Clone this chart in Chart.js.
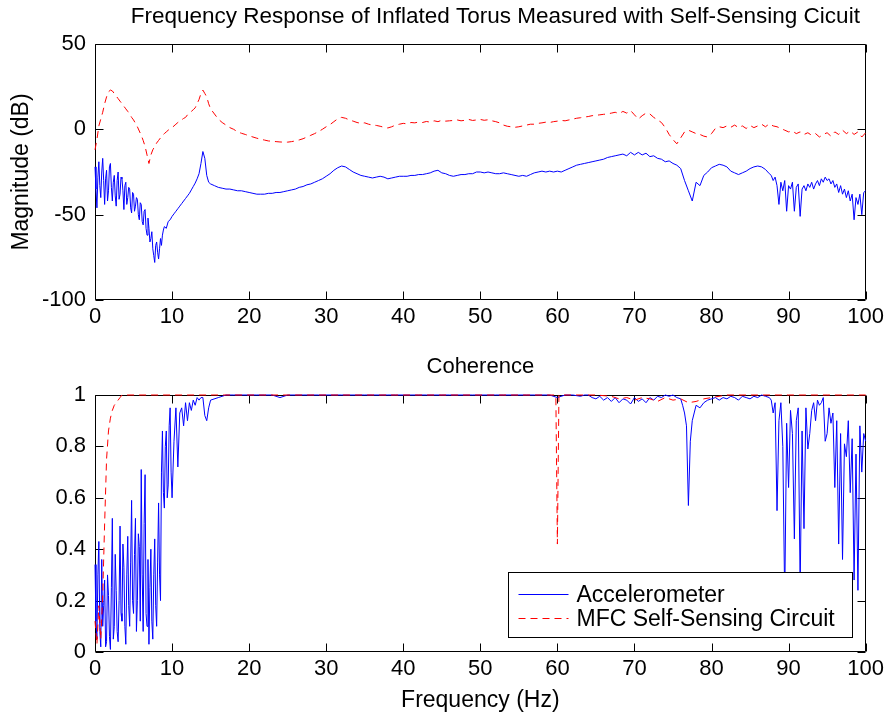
<!DOCTYPE html>
<html>
<head>
<meta charset="utf-8">
<title>Frequency Response of Inflated Torus</title>
<script src="https://cdn.jsdelivr.net/npm/chart.js"></script>
<style>
    html, body { margin: 0; padding: 0; background: #fff; }
    #page { position: relative; width: 888px; height: 717px; }
    #magChart { position: absolute; left: 0; top: 0; }
    #cohChart { position: absolute; left: 0; top: 345px; }
</style>
</head>
<body>
<div id="page">
    <canvas id="magChart" width="888" height="345"></canvas>
    <canvas id="cohChart" width="888" height="372"></canvas>
</div>
<script>
// ---- magnitude plot (dB) ----
const accelFreq = [
    0, 0.125, 0.25, 0.375, 0.5, 0.625, 0.75, 0.875,
    1, 1.125, 1.25, 1.375, 1.5, 1.625, 1.75, 1.875,
    2, 2.125, 2.25, 2.375, 2.5, 2.625, 2.75, 2.875,
    3, 3.125, 3.25, 3.375, 3.5, 3.625, 3.75, 3.875,
    4, 4.125, 4.25, 4.375, 4.5, 4.625, 4.75, 4.875,
    5, 5.125, 5.25, 5.375, 5.5, 5.625, 5.75, 5.875,
    6, 6.125, 6.25, 6.375, 6.5, 6.625, 6.75, 6.875,
    7, 7.125, 7.25, 7.375, 7.5, 7.625, 7.75, 7.875,
    8, 8.125, 8.25, 8.375, 8.5, 8.625, 8.75, 8.875,
    9, 9.25, 9.5, 9.75,
    10, 10.25, 10.5, 10.75, 11, 11.25, 11.5, 11.75, 12, 12.25,
    12.5, 12.75, 13, 13.25, 13.5, 13.75, 14, 14.25, 14.5, 14.75,
    15,
    15.5, 16, 16.5, 17, 17.5, 18, 18.5, 19, 19.5, 20,
    20.5, 21, 21.5, 22, 22.5, 23, 23.5, 24, 24.5, 25,
    25.5, 26, 26.5, 27, 27.5, 28, 28.5, 29, 29.5, 30,
    30.5, 31, 31.5, 32, 32.5, 33, 33.5, 34, 34.5, 35,
    35.5, 36, 36.5, 37, 37.5, 38, 38.5, 39, 39.5, 40,
    40.5, 41, 41.5, 42, 42.5, 43, 43.5, 44, 44.5, 45,
    45.5, 46, 46.5, 47, 47.5, 48, 48.5, 49, 49.5, 50,
    50.5, 51, 51.5, 52, 52.5, 53, 53.5, 54, 54.5, 55,
    55.5, 56, 56.5, 57, 57.5, 58, 58.5, 59, 59.5, 60,
    60.5, 61, 61.5, 62, 62.5, 63, 63.5, 64, 64.5, 65,
    65.5, 66, 66.5, 67, 67.5, 68, 68.5, 69, 69.5, 70,
    70.5, 71, 71.5, 72, 72.5, 73, 73.5, 74, 74.5, 75,
    75.5, 76, 76.5, 77, 77.5, 78, 78.5, 79, 79.5, 80,
    80.5, 81, 81.5, 82, 82.5, 83, 83.5, 84, 84.5, 85,
    85.5, 86, 86.5, 87, 87.5,
    87.75, 88, 88.25, 88.5, 88.75, 89, 89.25, 89.5, 89.75, 90,
    90.25, 90.5, 90.75, 91, 91.25, 91.5, 91.75, 92, 92.25, 92.5,
    92.75, 93, 93.25, 93.5, 93.75, 94, 94.25, 94.5, 94.75, 95,
    95.25, 95.5, 95.75, 96, 96.25, 96.5, 96.75, 97, 97.25, 97.5,
    97.75, 98, 98.25, 98.5, 98.75, 99, 99.25, 99.5, 99.75, 100
]

const accelMag = [
    -22, -35, -46, -28, -19, -33, -40, -25,
    -17, -30, -44, -29, -24, -42, -36, -22,
    -20, -34, -42, -31, -27, -39, -45, -30,
    -25, -41, -38, -28, -29, -36, -47, -33,
    -31, -44, -40, -34, -35, -46, -49, -37,
    -38, -48, -45, -40, -41, -50, -53, -43,
    -44, -54, -56, -48, -47, -58, -62, -52,
    -58, -66, -64, -60, -70, -74, -78, -68,
    -66, -72, -76, -70, -64, -68, -62, -59,
    -57, -58, -54, -53,
    -51, -49.5, -48, -46.5, -45, -43.5, -42, -40.5, -39, -37.5,
    -35.5, -33.5, -31.5, -29, -26, -20, -13, -17, -27, -31,
    -32,
    -33, -34, -34.5, -35, -35, -35.5, -36, -36, -36.5, -37,
    -37.5, -38, -38, -38, -37.5, -37.5, -37, -37, -36.5, -36,
    -35.5, -35, -34, -33.5, -32.5, -32, -31, -30, -29, -27.5,
    -26, -24, -22.5, -21.5, -22, -23.5, -25, -26, -27, -27.5,
    -28, -28.5, -28, -27.5, -28, -29, -28.5, -28, -27.5, -27.5,
    -27.5, -27, -27, -26.5, -26.5, -26, -25.5, -24.5, -24, -25.5,
    -26, -27, -27.5, -27, -26.5, -26.5, -26, -26, -25, -25,
    -25.5, -25, -25.5, -26, -26, -25.5, -26, -26.5, -27, -27.5,
    -27, -27.5, -26.5, -25.5, -25, -24.5, -25, -24.5, -25, -24.5,
    -25, -24, -23, -22, -21, -20.5, -20, -19.5, -19, -18.5,
    -18, -17.5, -16.5, -16, -15.5, -15, -14.5, -15.5, -13.5, -15,
    -13.5, -15, -14, -16, -15.5, -17, -17.5, -19, -18.5, -20,
    -21, -23, -30, -36, -42, -31, -33, -27, -25, -22.5,
    -21.5, -20.5, -21, -22, -24.5, -25.5, -26.5, -25.5, -24.5, -23,
    -22, -21.5, -22, -23.5, -26,
    -27, -30, -28, -33, -44, -31, -36, -30, -48, -33,
    -35, -31, -48, -34, -32, -51, -35, -33, -36, -32,
    -34, -31, -35, -32, -30, -33, -29, -31, -28, -30,
    -29, -32, -30, -34, -32, -37, -33, -38, -35, -40,
    -36, -42, -38, -53, -40, -44, -38, -50, -37, -36
]

const mfcFreq = [
    0, 0.25, 0.5, 0.75, 1, 1.25, 1.5, 1.75, 2, 2.25,
    2.5, 2.75, 3, 3.25, 3.5, 3.75, 4, 4.25, 4.5, 4.75,
    5, 5.25, 5.5, 5.75, 6, 6.25, 6.5, 6.75, 7, 7.25,
    7.5, 7.75, 8, 8.25, 8.5, 8.75, 9, 9.25, 9.5, 9.75,
    10, 10.25, 10.5, 10.75, 11, 11.25, 11.5, 11.75, 12, 12.25,
    12.5, 12.75, 13, 13.25, 13.5, 13.75, 14, 14.25, 14.5, 14.75,
    15,
    15.5, 16, 16.5, 17, 17.5, 18, 18.5, 19, 19.5, 20,
    20.5, 21, 21.5, 22, 22.5, 23, 23.5, 24, 24.5, 25,
    25.5, 26, 26.5, 27, 27.5, 28, 28.5, 29, 29.5, 30,
    30.5, 31, 31.5, 32, 32.5, 33, 33.5, 34, 34.5, 35,
    35.5, 36, 36.5, 37, 37.5, 38, 38.5, 39, 39.5, 40,
    40.5, 41, 41.5, 42, 42.5, 43, 43.5, 44, 44.5, 45,
    45.5, 46, 46.5, 47, 47.5, 48, 48.5, 49, 49.5, 50,
    50.5, 51, 51.5, 52, 52.5, 53, 53.5, 54, 54.5, 55,
    55.5, 56, 56.5, 57, 57.5, 58, 58.5, 59, 59.5, 60,
    60.5, 61, 61.5, 62, 62.5, 63, 63.5, 64, 64.5, 65,
    65.5, 66, 66.5, 67, 67.5, 68, 68.5, 69, 69.5, 70,
    70.5, 71, 71.5, 72, 72.5, 73, 73.5, 74, 74.5, 75,
    75.5, 76, 76.5, 77, 77.5, 78, 78.5, 79, 79.5, 80,
    80.5, 81, 81.5, 82, 82.5, 83, 83.5, 84, 84.5, 85,
    85.5, 86, 86.5, 87, 87.5, 88, 88.5, 89, 89.5, 90,
    90.5, 91, 91.5, 92, 92.5, 93, 93.5, 94, 94.5, 95,
    95.5, 96, 96.5, 97, 97.5, 98, 98.5, 99, 99.5, 100
]

const mfcMag = [
    -12, -6, 2, 6, 10, 15, 19, 22, 23, 22.5,
    21, 19.5, 18, 16.5, 15, 13.5, 12, 10.5, 9, 7,
    5.5, 3.5, 1.5, -1, -3.5, -6.5, -10, -15, -20, -15,
    -12, -10, -8, -6.5, -5, -3.5, -2.5, -1.5, -0.5, 0.3,
    1, 2, 3, 4, 4.8, 5.6, 6.4, 7, 8.5, 9.5,
    10.5, 11.5, 12.6, 15, 17.5, 21, 23, 21, 19, 15,
    12,
    9, 6, 4, 2.5, 1, 0, -1.5, -2.3, -3, -3.8,
    -4.5, -5.2, -5.8, -6.3, -6.8, -7, -7.2, -7.4, -7.5, -7.5,
    -7.2, -6.8, -6.2, -5.5, -4.5, -3.5, -2.5, -1.3, 0, 1.5,
    2.8, 4.5, 6.2, 7, 6.5, 5.5, 4.8, 4, 3.5, 3.8,
    3, 2.5, 2.3, 1.8, 1.2, 0.8, 1.5, 2.5, 3, 3.5,
    3.2, 4, 3.8, 4.3, 4, 4.6, 4.2, 5, 4.5, 5.3,
    4.8, 5, 5.2, 5.5, 5, 5.3, 5.8, 5.2, 5.5, 5.8,
    5.3, 5.6, 5, 4.5, 3.8, 2.5, 1.8, 1.5, 1.2, 1.5,
    2, 2.5, 3, 3, 3.5, 3.8, 4.2, 4, 4.5, 4.8,
    5.2, 5, 5.5, 6, 6.5, 6.8, 7.2, 7.5, 8, 8.2,
    8.5, 8.8, 9, 9.5, 10, 9.2, 10.5, 9.5, 11, 8.5,
    6, 8, 9.5, 9, 7, 5.5, 4, 1, -3, -6,
    -8.5, -5, -1.5, -0.5, -1.5, -2.5, -3, -4, -4.5, -2.5,
    0.5, 1.5, 1, 2, 1.2, 2.5, 1, 2, 0.5, 2.3,
    1, 2, 3, 1.5, 3.2, 2, 1.5, 0.5, -0.5, -1.5,
    -1, -2.5, -1.5, -3, -2, -3.5, -2.5, -4.5, -3, -2,
    -4, -1.5, -3, -0.5, -2.5, -1, -3, -1.5, -4.5, -2
]

// ---- coherence plot ----
const accelCohFreq = [
    0, 0.125, 0.25, 0.375, 0.5, 0.625, 0.75, 0.875,
    1, 1.125, 1.25, 1.375, 1.5, 1.625, 1.75, 1.875,
    2, 2.125, 2.25, 2.375, 2.5, 2.625, 2.75, 2.875,
    3, 3.125, 3.25, 3.375, 3.5, 3.625, 3.75, 3.875,
    4, 4.125, 4.25, 4.375, 4.5, 4.625, 4.75, 4.875,
    5, 5.125, 5.25, 5.375, 5.5, 5.625, 5.75, 5.875,
    6, 6.125, 6.25, 6.375, 6.5, 6.625, 6.75, 6.875,
    7, 7.125, 7.25, 7.375, 7.5, 7.625, 7.75, 7.875,
    8, 8.125, 8.25, 8.375, 8.5, 8.625, 8.75, 8.875,
    9, 9.125, 9.25, 9.375, 9.5, 9.625, 9.75, 9.875,
    10, 10.25, 10.5, 10.75, 11, 11.25, 11.5, 11.75, 12, 12.25,
    12.5, 12.75, 13, 13.25, 13.5, 13.75, 14, 14.25, 14.5, 14.75,
    15,
    16, 17, 18, 19, 20, 21, 22, 23, 24, 25,
    26, 27, 28, 29, 30, 31, 32, 33, 34, 35,
    36, 37, 38, 39, 40, 41, 42, 43, 44, 45,
    46, 47, 48, 49, 50, 51, 52, 53, 54, 55,
    56, 57, 58, 59,
    60, 61, 62, 63,
    63.5, 64, 64.5, 65, 65.5, 66, 66.5, 67, 67.5, 68,
    68.5, 69, 69.5, 70, 70.5, 71, 71.5, 72, 72.5, 73,
    73.5, 74, 74.5, 75, 75.5, 76,
    76.25, 76.5, 76.75, 77, 77.25, 77.5, 77.75, 78,
    78.5, 79, 79.5, 80, 80.5, 81, 81.5, 82, 82.5, 83,
    83.5, 84, 84.5, 85, 85.5, 86, 86.5, 87, 87.5,
    87.75, 88, 88.25, 88.5, 88.75, 89, 89.25, 89.5, 89.75, 90,
    90.25, 90.5, 90.75, 91, 91.25, 91.5, 91.75, 92, 92.25, 92.5,
    92.75, 93, 93.25, 93.5, 93.75, 94, 94.25, 94.5, 94.75, 95,
    95.25, 95.5, 95.75, 96, 96.25, 96.5, 96.75, 97, 97.25, 97.5,
    97.75, 98, 98.25, 98.5, 98.75, 99, 99.25, 99.5, 99.75, 100
]

const accelCoh = [
    0.34, 0.12, 0.05, 0.3, 0.43, 0.08, 0.02, 0.36,
    0.1, 0.18, 0.28, 0.02, 0.04, 0.3, 0.22, 0.06,
    0.01, 0.25, 0.52, 0.05, 0.1, 0.38, 0.24, 0.08,
    0.04, 0.2, 0.49, 0.15, 0.12, 0.42, 0.33, 0.1,
    0.03, 0.3, 0.45, 0.18, 0.1, 0.35, 0.59, 0.2,
    0.15, 0.38, 0.52, 0.08, 0.2, 0.46, 0.41, 0.12,
    0.71, 0.3, 0.08, 0.5, 0.69, 0.15, 0.1, 0.36,
    0.03, 0.25, 0.4, 0.12, 0.05, 0.3, 0.44, 0.18,
    0.1, 0.35, 0.58, 0.3, 0.2, 0.7, 0.86, 0.62,
    0.56, 0.8, 0.86, 0.6, 0.65, 0.88, 0.95, 0.7,
    0.6, 0.82, 0.95, 0.72, 0.93, 0.95, 0.88, 0.97, 0.9, 0.97,
    0.94, 0.98, 0.96, 0.99, 0.98, 0.99, 0.99, 0.92, 0.9, 0.95,
    0.98,
    0.99, 1, 1, 1, 1, 1, 1, 1, 0.99, 1,
    1, 1, 1, 1, 1, 1, 1, 1, 1, 1,
    1, 1, 1, 1, 1, 1, 1, 1, 1, 1,
    1, 1, 1, 1, 1, 1, 1, 1, 1, 1,
    1, 1, 1, 1,
    0.99, 1, 1, 0.995,
    1, 1, 0.99, 0.985, 0.995, 0.98, 0.99, 0.975, 0.99, 0.97,
    0.985, 0.98, 0.965, 0.99, 0.975, 0.985, 0.97, 0.99, 0.98, 0.995,
    0.99, 1, 0.995, 1, 0.99, 0.985,
    0.96, 0.93, 0.88, 0.57, 0.82, 0.9, 0.93, 0.96,
    0.95, 0.97, 0.98, 0.985, 0.99, 0.98, 0.99, 0.985, 0.995, 0.99,
    0.98, 0.995, 0.99, 0.985, 0.995, 0.99, 1, 0.995, 0.99,
    0.98, 0.93, 0.97, 0.55, 0.9, 0.97, 0.8, 0.2, 0.89, 0.64,
    0.94, 0.85, 0.44, 0.9, 0.95, 0.25, 0.86, 0.48, 0.95, 0.79,
    0.85, 0.94, 0.97, 0.9, 0.98, 0.96, 0.97, 0.99, 0.82, 0.85,
    0.95, 0.89, 0.93, 0.64, 0.9, 0.42, 0.85, 0.36, 0.81, 0.76,
    0.9, 0.62, 0.83, 0.28, 0.77, 0.24, 0.88, 0.7, 0.85, 0.82
]

const mfcCohFreq = [
    0, 0.25, 0.5, 0.75, 1, 1.25, 1.5, 1.75, 2, 2.25, 2.5, 2.75, 3, 3.25, 3.5,
    4, 10, 20, 30, 40, 50, 59.8, 60, 60.2, 65, 67,
    68, 69, 70, 71, 72, 73, 74, 75, 76, 77, 78, 79, 80,
    82, 85, 90, 95, 100
]

const mfcCoh = [
    0.12, 0.03, 0.18, 0.05, 0.22, 0.5, 0.75, 0.86, 0.91, 0.94, 0.96, 0.97, 0.98, 0.99, 1,
    1, 1, 1, 1, 1, 1, 1, 0.42, 1, 1, 0.995,
    0.985, 0.99, 0.98, 0.99, 0.985, 0.975, 0.99, 0.98, 0.985, 0.97, 0.975, 0.985, 0.99,
    1, 1, 1, 1, 1
]

const freqTicks = [0, 10, 20, 30, 40, 50, 60, 70, 80, 90, 100]
const magTicks = [-100, -50, 0, 50]
const cohTicks = [0, 0.2, 0.4, 0.6, 0.8, 1]

const seriesNames = ['Accelerometer', 'MFC Self-Sensing Circuit']
const titles = ['Frequency Response of Inflated Torus Measured with Self-Sensing Cicuit', 'Coherence']

const face = "'Liberation Sans', Arial, Helvetica, sans-serif"

function pairUp(xs, ys) {
    if (xs.length !== ys.length) throw new Error('length mismatch ' + xs.length + ' vs ' + ys.length)
    return xs.map((x, i) => ({ x: x, y: ys[i] }))
}

Chart.defaults.color = '#000'
Chart.defaults.animation = false

// matlab style box with ticks pointing inward, plus the title above the axes
const matlabAxes = {
    id: 'matlabAxes',
    beforeDatasetsDraw(chart, args, opts) {
        const { ctx, chartArea: a, scales } = chart
        const L = Math.round(a.left) + 0.5, R = Math.round(a.right) - 0.5
        const T = Math.round(a.top) + 0.5, B = Math.round(a.bottom) - 0.5
        ctx.save()
        ctx.strokeStyle = '#000'
        ctx.lineWidth = 1
        ctx.beginPath()
        scales.x.ticks.forEach(t => {
            const px = Math.round(scales.x.getPixelForValue(t.value)) + 0.5
            ctx.moveTo(px, B); ctx.lineTo(px, B - 8)
            ctx.moveTo(px, T); ctx.lineTo(px, T + 8)
        })
        scales.y.ticks.forEach(t => {
            const py = Math.round(scales.y.getPixelForValue(t.value)) + 0.5
            ctx.moveTo(L, py); ctx.lineTo(L + 8, py)
            ctx.moveTo(R, py); ctx.lineTo(R - 8, py)
        })
        ctx.rect(L, T, R - L, B - T)
        ctx.stroke()

        ctx.fillStyle = '#000'
        ctx.font = opts.size + 'px ' + face
        ctx.textAlign = 'center'
        ctx.textBaseline = 'middle'
        ctx.fillText(opts.text, (a.left + a.right) / 2 + opts.shift, a.top - opts.gap)
        ctx.restore()
    }
}

// legend box sitting inside the axes, lower right
const boxLegend = {
    id: 'boxLegend',
    afterDatasetsDraw(chart) {
        const { ctx, chartArea: a } = chart
        const sets = chart.data.datasets
        ctx.save()
        ctx.font = '23px ' + face
        const textW = Math.max(...sets.map(d => ctx.measureText(d.label).width))
        const w = Math.round(68 + textW + 18), h = 65
        const x = Math.round(a.right - 14 - w) + 0.5
        const y = Math.round(a.bottom - 15 - h) + 0.5
        ctx.fillStyle = '#fff'
        ctx.fillRect(x, y, w, h)
        ctx.strokeStyle = '#000'
        ctx.lineWidth = 1
        ctx.strokeRect(x, y, w, h)
        sets.forEach((d, i) => {
            const ly = Math.round(y + 21 + i * 24) + 0.5
            ctx.strokeStyle = d.borderColor
            ctx.setLineDash(d.borderDash || [])
            ctx.beginPath()
            ctx.moveTo(x + 10, ly)
            ctx.lineTo(x + 60, ly)
            ctx.stroke()
            ctx.setLineDash([])
            ctx.fillStyle = '#000'
            ctx.textAlign = 'left'
            ctx.textBaseline = 'middle'
            ctx.fillText(d.label, x + 68, ly + 1)
        })
        ctx.restore()
    }
}

function plainNumber(v) {
    return String(Number(v.toFixed(2)))
}

function xScale(showTitle) {
    return {
        type: 'linear',
        min: 0,
        max: 100,
        afterBuildTicks: scale => { scale.ticks = freqTicks.map(v => ({ value: v })) },
        afterFit: scale => { scale.height = showTitle ? 65 : 45 },
        grid: { display: false, drawTicks: false },
        border: { display: false },
        ticks: { font: { family: face, size: 22, lineHeight: 1.2 }, padding: 4, maxRotation: 0, callback: plainNumber },
        title: {
            display: showTitle,
            text: 'Frequency (Hz)',
            font: { family: face, size: 23, lineHeight: 1.2 },
            padding: { top: 0, bottom: 3 }
        }
    }
}

function yScale(min, max, ticks, label) {
    return {
        min: min,
        max: max,
        afterBuildTicks: scale => { scale.ticks = ticks.map(v => ({ value: v })) },
        afterFit: scale => { scale.width = 95 },
        grid: { display: false, drawTicks: false },
        border: { display: false },
        ticks: { font: { family: face, size: 22 }, padding: 9, callback: plainNumber },
        title: {
            display: !!label,
            text: label || '',
            font: { family: face, size: 23, lineHeight: 1.2 },
            padding: { top: 8, bottom: 0 }
        }
    }
}

function lineSet(label, points, color, dash, order) {
    return {
        label: label,
        data: points,
        borderColor: color,
        borderWidth: 1,
        borderDash: dash,
        pointRadius: 0,
        tension: 0,
        fill: false,
        clip: 1,
        order: order
    }
}

new Chart(document.getElementById('magChart'), {
    type: 'line',
    data: {
        datasets: [
            lineSet(seriesNames[0], pairUp(accelFreq, accelMag), '#0000ff', [], 1),
            lineSet(seriesNames[1], pairUp(mfcFreq, mfcMag), '#ff0000', [7, 5], 0)
        ]
    },
    options: {
        responsive: false,
        parsing: false,
        layout: { padding: { top: 44, right: 22, left: 0, bottom: 0 } },
        scales: { x: xScale(false), y: yScale(-100, 50, magTicks, 'Magnitude (dB)') },
        plugins: {
            legend: { display: false },
            tooltip: { enabled: false },
            matlabAxes: { text: titles[0], size: 22.5, shift: 15, gap: 27 }
        }
    },
    plugins: [matlabAxes]
})

new Chart(document.getElementById('cohChart'), {
    type: 'line',
    data: {
        datasets: [
            lineSet(seriesNames[0], pairUp(accelCohFreq, accelCoh), '#0000ff', [], 1),
            lineSet(seriesNames[1], pairUp(mfcCohFreq, mfcCoh), '#ff0000', [7, 5], 0)
        ]
    },
    options: {
        responsive: false,
        parsing: false,
        layout: { padding: { top: 50, right: 22, left: 0, bottom: 0 } },
        scales: { x: xScale(true), y: yScale(0, 1, cohTicks, null) },
        plugins: {
            legend: { display: false },
            tooltip: { enabled: false },
            matlabAxes: { text: titles[1], size: 22, shift: 0, gap: 28 }
        }
    },
    plugins: [matlabAxes, boxLegend]
})
</script>
</body>
</html>
